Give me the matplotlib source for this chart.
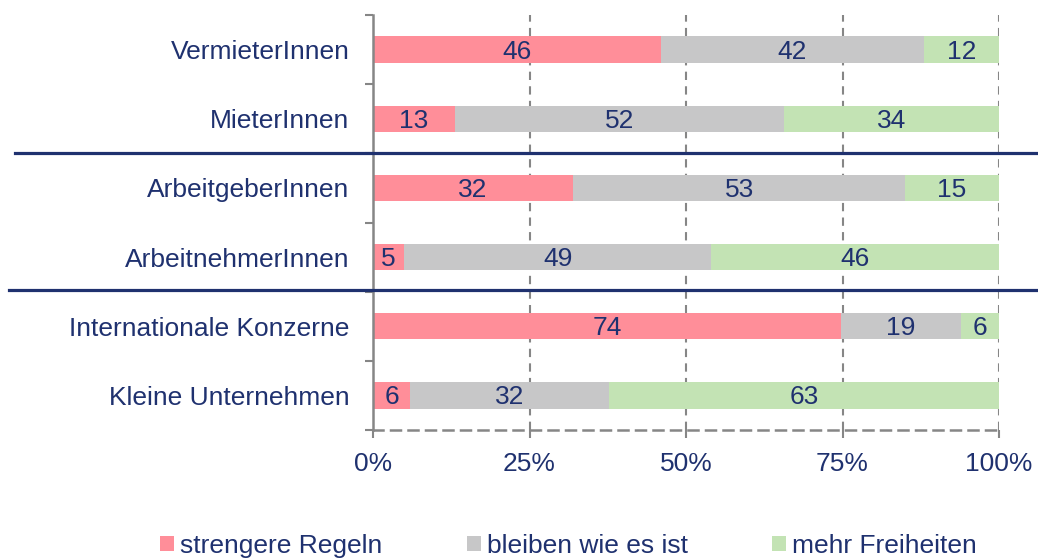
import matplotlib
matplotlib.use("Agg")
import matplotlib.pyplot as plt
import numpy as np
from matplotlib.lines import Line2D

categories = ["VermieterInnen", "MieterInnen", "ArbeitgeberInnen",
              "ArbeitnehmerInnen", "Internationale Konzerne", "Kleine Unternehmen"]
strengere = [46, 13, 32, 5, 74, 6]
bleiben = [42, 52, 53, 49, 19, 32]
freiheiten = [12, 34, 15, 46, 6, 63]
series_names = ["strengere Regeln", "bleiben wie es ist", "mehr Freiheiten"]
xtick_vals = [0, 0.25, 0.5, 0.75, 1.0]
xtick_labels = ["0%", "25%", "50%", "75%", "100%"]

colors = ["#FF8E99", "#C7C7C8", "#C3E3B4"]
navy = "#1F316F"
gridc = "#868686"

plt.rcParams['font.family'] = ['Liberation Sans', 'DejaVu Sans']
FS = 19

W, H = 1038, 558
fig = plt.figure(figsize=(W / 100, H / 100), dpi=100)
ax = fig.add_axes([373 / W, 1 - 430 / H, (999 - 373) / W, (430 - 15) / H])

data = np.array([strengere, bleiben, freiheiten], dtype=float)
totals = data.sum(axis=0)
frac = data / totals
n = len(categories)
y = np.arange(n)
left = np.zeros(n)
for i in range(3):
    ax.barh(y, frac[i], left=left, height=0.38, color=colors[i], label=series_names[i], zorder=3)
    for j in range(n):
        ax.text(left[j] + frac[i][j] / 2, y[j] + 0.03, f"{int(data[i][j])}", ha="center", va="center",
                fontsize=FS, color=navy, zorder=4)
    left += frac[i]

ax.set_ylim(n - 0.5, -0.5)
ax.set_xlim(0, 1)
ax.set_yticks(y)
ax.set_yticklabels(categories, fontsize=FS, color=navy)
ax.set_yticks(np.arange(-0.5, n, 1), minor=True)
ax.tick_params(axis="y", which="major", length=0, pad=17)
ax.tick_params(axis="y", which="minor", length=6, width=1.5, color=gridc, direction="out")

ax.set_xticks(xtick_vals)
ax.set_xticklabels(xtick_labels, fontsize=FS, color=navy)
ax.tick_params(axis="x", length=6, width=1.5, color=gridc, direction="out", pad=9.5)

for s in ["top", "right"]:
    ax.spines[s].set_visible(False)
ax.spines["left"].set_color(gridc)
ax.spines["left"].set_linewidth(1.8)
ax.spines["bottom"].set_color(gridc)
ax.spines["bottom"].set_linewidth(1.8)
ax.spines["bottom"].set_linestyle((0, (4, 3)))
ax.spines["left"].set_zorder(5)

for xv in xtick_vals[1:]:
    ax.axvline(xv, color=gridc, linestyle=(0, (4, 3)), linewidth=1.5, zorder=2)

# separator lines between groups (in figure coordinates)
fig.add_artist(Line2D([15 / W, 1.0], [1 - 153 / H, 1 - 153 / H], color=navy, linewidth=2.3))
fig.add_artist(Line2D([9 / W, 1.0], [1 - 290 / H, 1 - 290 / H], color=navy, linewidth=2.3))

leg = fig.legend(loc="center left", bbox_to_anchor=(160 / W, 1 - 546 / H), ncol=3, frameon=False,
                 fontsize=FS, handlelength=0.53, handleheight=0.53, handletextpad=0.23,
                 columnspacing=3.2, borderaxespad=0, borderpad=0)
for t in leg.get_texts():
    t.set_color(navy)

fig.savefig("out.png", dpi=100)
